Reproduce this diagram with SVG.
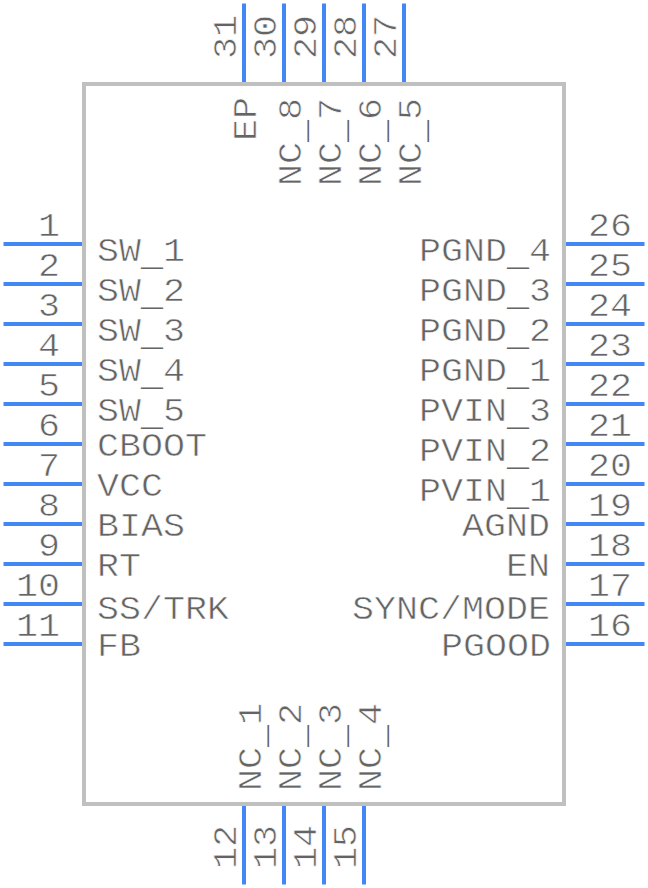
<svg xmlns="http://www.w3.org/2000/svg" width="648" height="888" viewBox="0 0 648 888">
<style>
text{font-family:"Liberation Mono",monospace;font-size:34px;fill:#646464;stroke:#fff;stroke-width:.6px}
.e{text-anchor:end}
.u{stroke:none}
</style>
<rect width="648" height="888" fill="#fff"/>
<g id="pins">
<path d="M3.5 244H82M3.500 284H82M3.5 324H82M3.5 364H82M3.5 404H82M3.5 444H82M3.5 484H82M3.5 524H82M3.5 564H82M3.5 604H82M3.5 644H82M566 244H644.5M566 284H644.5M566 324H644.5M566 364H644.5M566 404H644.5M566 444H644.5M566 484H644.5M566 524H644.5M566 564H644.5M566 604H644.5M566 644H644.5M244 3.5V82M284 3.5V82M324 3.5V82M364 3.5V82M404 3.5V82M244 806V884.5M284 806V884.5M324 806V884.5M364 806V884.5" stroke="#4287f5" stroke-width="4" fill="none"/>
</g>
<g id="body"><rect x="84" y="84" width="480" height="720" fill="none" stroke="#c0c0c0" stroke-width="4"/></g>
<g id="pin-numbers">
<text class="e" x="60" y="236" textLength="22" lengthAdjust="spacingAndGlyphs">1</text><text class="e" x="60" y="276" textLength="22" lengthAdjust="spacingAndGlyphs">2</text><text class="e" x="60" y="316" textLength="22" lengthAdjust="spacingAndGlyphs">3</text><text class="e" x="60" y="356" textLength="22" lengthAdjust="spacingAndGlyphs">4</text><text class="e" x="60" y="396" textLength="22" lengthAdjust="spacingAndGlyphs">5</text><text class="e" x="60" y="436" textLength="22" lengthAdjust="spacingAndGlyphs">6</text><text class="e" x="60" y="476" textLength="22" lengthAdjust="spacingAndGlyphs">7</text><text class="e" x="60" y="516" textLength="22" lengthAdjust="spacingAndGlyphs">8</text><text class="e" x="60" y="556" textLength="22" lengthAdjust="spacingAndGlyphs">9</text><text class="e" x="60" y="596" textLength="44" lengthAdjust="spacingAndGlyphs">10</text><text class="e" x="60" y="636" textLength="44" lengthAdjust="spacingAndGlyphs">11</text>
<text x="588" y="236" textLength="44" lengthAdjust="spacingAndGlyphs">26</text><text x="588" y="276" textLength="44" lengthAdjust="spacingAndGlyphs">25</text><text x="588" y="316" textLength="44" lengthAdjust="spacingAndGlyphs">24</text><text x="588" y="356" textLength="44" lengthAdjust="spacingAndGlyphs">23</text><text x="588" y="396" textLength="44" lengthAdjust="spacingAndGlyphs">22</text><text x="588" y="436" textLength="44" lengthAdjust="spacingAndGlyphs">21</text><text x="588" y="476" textLength="44" lengthAdjust="spacingAndGlyphs">20</text><text x="588" y="516" textLength="44" lengthAdjust="spacingAndGlyphs">19</text><text x="588" y="556" textLength="44" lengthAdjust="spacingAndGlyphs">18</text><text x="588" y="596" textLength="44" lengthAdjust="spacingAndGlyphs">17</text><text x="588" y="636" textLength="44" lengthAdjust="spacingAndGlyphs">16</text>
<text transform="translate(236 59) rotate(-90)" textLength="44" lengthAdjust="spacingAndGlyphs">31</text><text transform="translate(276 59) rotate(-90)" textLength="44" lengthAdjust="spacingAndGlyphs">30</text><text transform="translate(316 59) rotate(-90)" textLength="44" lengthAdjust="spacingAndGlyphs">29</text><text transform="translate(356 59) rotate(-90)" textLength="44" lengthAdjust="spacingAndGlyphs">28</text><text transform="translate(396 59) rotate(-90)" textLength="44" lengthAdjust="spacingAndGlyphs">27</text>
<text transform="translate(236 869) rotate(-90)" textLength="44" lengthAdjust="spacingAndGlyphs">12</text><text transform="translate(276 869) rotate(-90)" textLength="44" lengthAdjust="spacingAndGlyphs">13</text><text transform="translate(316 869) rotate(-90)" textLength="44" lengthAdjust="spacingAndGlyphs">14</text><text transform="translate(356 869) rotate(-90)" textLength="44" lengthAdjust="spacingAndGlyphs">15</text>
</g>
<g id="pin-labels">
<text x="97" y="261" textLength="88" lengthAdjust="spacingAndGlyphs">SW<tspan class="u" dy="4">_</tspan><tspan dy="-4">1</tspan></text><text x="97" y="301" textLength="88" lengthAdjust="spacingAndGlyphs">SW<tspan class="u" dy="4">_</tspan><tspan dy="-4">2</tspan></text><text x="97" y="341" textLength="88" lengthAdjust="spacingAndGlyphs">SW<tspan class="u" dy="4">_</tspan><tspan dy="-4">3</tspan></text><text x="97" y="381" textLength="88" lengthAdjust="spacingAndGlyphs">SW<tspan class="u" dy="4">_</tspan><tspan dy="-4">4</tspan></text><text x="97" y="421" textLength="88" lengthAdjust="spacingAndGlyphs">SW<tspan class="u" dy="4">_</tspan><tspan dy="-4">5</tspan></text><text x="97" y="456" textLength="110" lengthAdjust="spacingAndGlyphs">CBOOT</text><text x="97" y="496" textLength="66" lengthAdjust="spacingAndGlyphs">VCC</text><text x="97" y="536" textLength="88" lengthAdjust="spacingAndGlyphs">BIAS</text><text x="97" y="576" textLength="44" lengthAdjust="spacingAndGlyphs">RT</text><text x="97" y="619" textLength="132" lengthAdjust="spacingAndGlyphs">SS/TRK</text><text x="97" y="656" textLength="44" lengthAdjust="spacingAndGlyphs">FB</text>
<text class="e" x="551" y="261" textLength="132" lengthAdjust="spacingAndGlyphs">PGND<tspan class="u" dy="4">_</tspan><tspan dy="-4">4</tspan></text><text class="e" x="551" y="301" textLength="132" lengthAdjust="spacingAndGlyphs">PGND<tspan class="u" dy="4">_</tspan><tspan dy="-4">3</tspan></text><text class="e" x="551" y="341" textLength="132" lengthAdjust="spacingAndGlyphs">PGND<tspan class="u" dy="4">_</tspan><tspan dy="-4">2</tspan></text><text class="e" x="551" y="381" textLength="132" lengthAdjust="spacingAndGlyphs">PGND<tspan class="u" dy="4">_</tspan><tspan dy="-4">1</tspan></text><text class="e" x="551" y="421" textLength="132" lengthAdjust="spacingAndGlyphs">PVIN<tspan class="u" dy="4">_</tspan><tspan dy="-4">3</tspan></text><text class="e" x="551" y="461" textLength="132" lengthAdjust="spacingAndGlyphs">PVIN<tspan class="u" dy="4">_</tspan><tspan dy="-4">2</tspan></text><text class="e" x="551" y="501" textLength="132" lengthAdjust="spacingAndGlyphs">PVIN<tspan class="u" dy="4">_</tspan><tspan dy="-4">1</tspan></text><text class="e" x="550" y="536" textLength="88" lengthAdjust="spacingAndGlyphs">AGND</text><text class="e" x="550" y="576" textLength="44" lengthAdjust="spacingAndGlyphs">EN</text><text class="e" x="550" y="619" textLength="198" lengthAdjust="spacingAndGlyphs">SYNC/MODE</text><text class="e" x="551" y="656" textLength="110" lengthAdjust="spacingAndGlyphs">PGOOD</text>
<text transform="translate(255.5 141) rotate(-90)" textLength="44" lengthAdjust="spacingAndGlyphs">EP</text>
<text transform="translate(301 186) rotate(-90)" textLength="88" lengthAdjust="spacingAndGlyphs">NC<tspan class="u" dy="4">_</tspan><tspan dy="-4">8</tspan></text><text transform="translate(341 186) rotate(-90)" textLength="88" lengthAdjust="spacingAndGlyphs">NC<tspan class="u" dy="4">_</tspan><tspan dy="-4">7</tspan></text><text transform="translate(381 186) rotate(-90)" textLength="88" lengthAdjust="spacingAndGlyphs">NC<tspan class="u" dy="4">_</tspan><tspan dy="-4">6</tspan></text><text transform="translate(421 186) rotate(-90)" textLength="88" lengthAdjust="spacingAndGlyphs">NC<tspan class="u" dy="4">_</tspan><tspan dy="-4">5</tspan></text>
<text transform="translate(261 791) rotate(-90)" textLength="88" lengthAdjust="spacingAndGlyphs">NC<tspan class="u" dy="4">_</tspan><tspan dy="-4">1</tspan></text><text transform="translate(301 791) rotate(-90)" textLength="88" lengthAdjust="spacingAndGlyphs">NC<tspan class="u" dy="4">_</tspan><tspan dy="-4">2</tspan></text><text transform="translate(341 791) rotate(-90)" textLength="88" lengthAdjust="spacingAndGlyphs">NC<tspan class="u" dy="4">_</tspan><tspan dy="-4">3</tspan></text><text transform="translate(381 791) rotate(-90)" textLength="88" lengthAdjust="spacingAndGlyphs">NC<tspan class="u" dy="4">_</tspan><tspan dy="-4">4</tspan></text>
</g>
</svg>
